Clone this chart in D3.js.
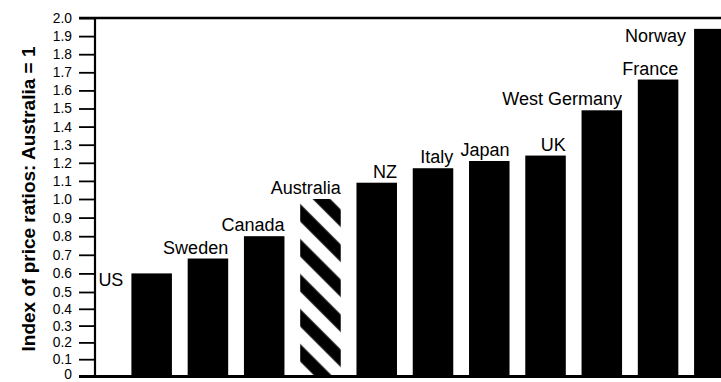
<!DOCTYPE html>
<html>
<head>
<meta charset="utf-8">
<script src="https://cdn.jsdelivr.net/npm/d3@7"></script>
<style>
  html, body { margin: 0; padding: 0; background: #fff; }
  svg { display: block; }
  text { font-family: "Liberation Sans", Arial, Helvetica, sans-serif; fill: #000; }
</style>
</head>
<body>
<script>
// Relative price levels, indexed so that Australia = 1
const countries = ["US", "Sweden", "Canada", "Australia", "NZ", "Italy", "Japan", "UK", "West Germany", "France", "Norway"];
const priceRatios = [0.60, 0.68, 0.80, 1.00, 1.09, 1.17, 1.21, 1.24, 1.49, 1.66, 1.94];
const yTicks = [0, 0.1, 0.2, 0.3, 0.4, 0.5, 0.6, 0.7, 0.8, 0.9, 1.0, 1.1, 1.2, 1.3, 1.4, 1.5, 1.6, 1.7, 1.8, 1.9, 2.0];
const yTitle = "Index of price ratios: Australia = 1";
const baseCountry = "Australia";
const sideLabelled = ["US", "Norway"];

const W = 721, H = 382;
const axisX = 95, lineStart = 79;

const svg = d3.select("body").append("svg")
  .attr("width", W).attr("height", H);

const y = d3.scaleLinear()
  .domain([0, 0.5, 1, 2])
  .range([376, 292, 199, 18]);

const x = d3.scaleBand()
  .domain(countries)
  .range([axisX, 771])
  .paddingInner(0.28)
  .paddingOuter(0.647);

const rows = countries.map((c, i) => ({ country: c, value: priceRatios[i] }));

// Diagonal hatching for the base country
const base = rows.find(d => d.country === baseCountry);
const period = 35 / Math.SQRT2;
const phaseC = (y(base.value) + 5) - x(baseCountry);
const v0 = ((phaseC / Math.SQRT2) % period + period) % period;
const pat = svg.append("defs").append("pattern")
  .attr("id", "stripes")
  .attr("patternUnits", "userSpaceOnUse")
  .attr("width", 10)
  .attr("height", period)
  .attr("patternTransform", "rotate(45)");
pat.append("rect").attr("width", 10).attr("height", period).attr("fill", "#fff");
pat.append("rect").attr("x", 0).attr("y", v0).attr("width", 10).attr("height", period / 2).attr("fill", "#000");
pat.append("rect").attr("x", 0).attr("y", v0 - period).attr("width", 10).attr("height", period / 2).attr("fill", "#000");

// Bars
svg.append("g").selectAll("rect")
  .data(rows)
  .join("rect")
  .attr("x", d => x(d.country))
  .attr("y", d => y(d.value))
  .attr("width", x.bandwidth())
  .attr("height", d => y(0) - y(d.value))
  .attr("fill", d => d.country === baseCountry ? "url(#stripes)" : "#000");

// Country labels
svg.append("g").selectAll("text")
  .data(rows)
  .join("text")
  .attr("x", d => sideLabelled.includes(d.country) ? x(d.country) - 8 : x(d.country) + x.bandwidth())
  .attr("y", d => sideLabelled.includes(d.country) ? y(d.value) + 13 : y(d.value) - 5)
  .attr("text-anchor", "end")
  .style("font-size", "18px")
  .text(d => d.country);

// Y axis
const yAxis = svg.append("g")
  .attr("transform", `translate(${axisX},0)`)
  .call(d3.axisLeft(y)
    .tickValues(yTicks)
    .tickSize(16)
    .tickPadding(7)
    .tickFormat(d => d === 0 ? "0" : d3.format(".1f")(d)));
yAxis.select(".domain").remove();
yAxis.selectAll(".tick line").attr("stroke", "#000").attr("stroke-width", 1.8);
yAxis.selectAll(".tick text")
  .style("font-size", "13.8px")
  .attr("fill", "#000")
  .attr("dy", d => d === 0 ? "0.2em" : "0.32em");

// Frame lines
svg.append("line")
  .attr("x1", axisX).attr("x2", axisX)
  .attr("y1", y(2)).attr("y2", y(0) + 1)
  .attr("stroke", "#000").attr("stroke-width", 2.2);
svg.append("line")
  .attr("x1", lineStart).attr("x2", W)
  .attr("y1", y(2)).attr("y2", y(2))
  .attr("stroke", "#000").attr("stroke-width", 2.5);
svg.append("line")
  .attr("x1", lineStart).attr("x2", W)
  .attr("y1", y(0) + 0.5).attr("y2", y(0) + 0.5)
  .attr("stroke", "#000").attr("stroke-width", 3);

// Axis title
svg.append("text")
  .attr("transform", `translate(35,${(y(0) + y(2)) / 2 + 2}) rotate(-90)`)
  .attr("text-anchor", "middle")
  .style("font-size", "19px")
  .style("font-weight", "bold")
  .text(yTitle);
</script>
</body>
</html>
